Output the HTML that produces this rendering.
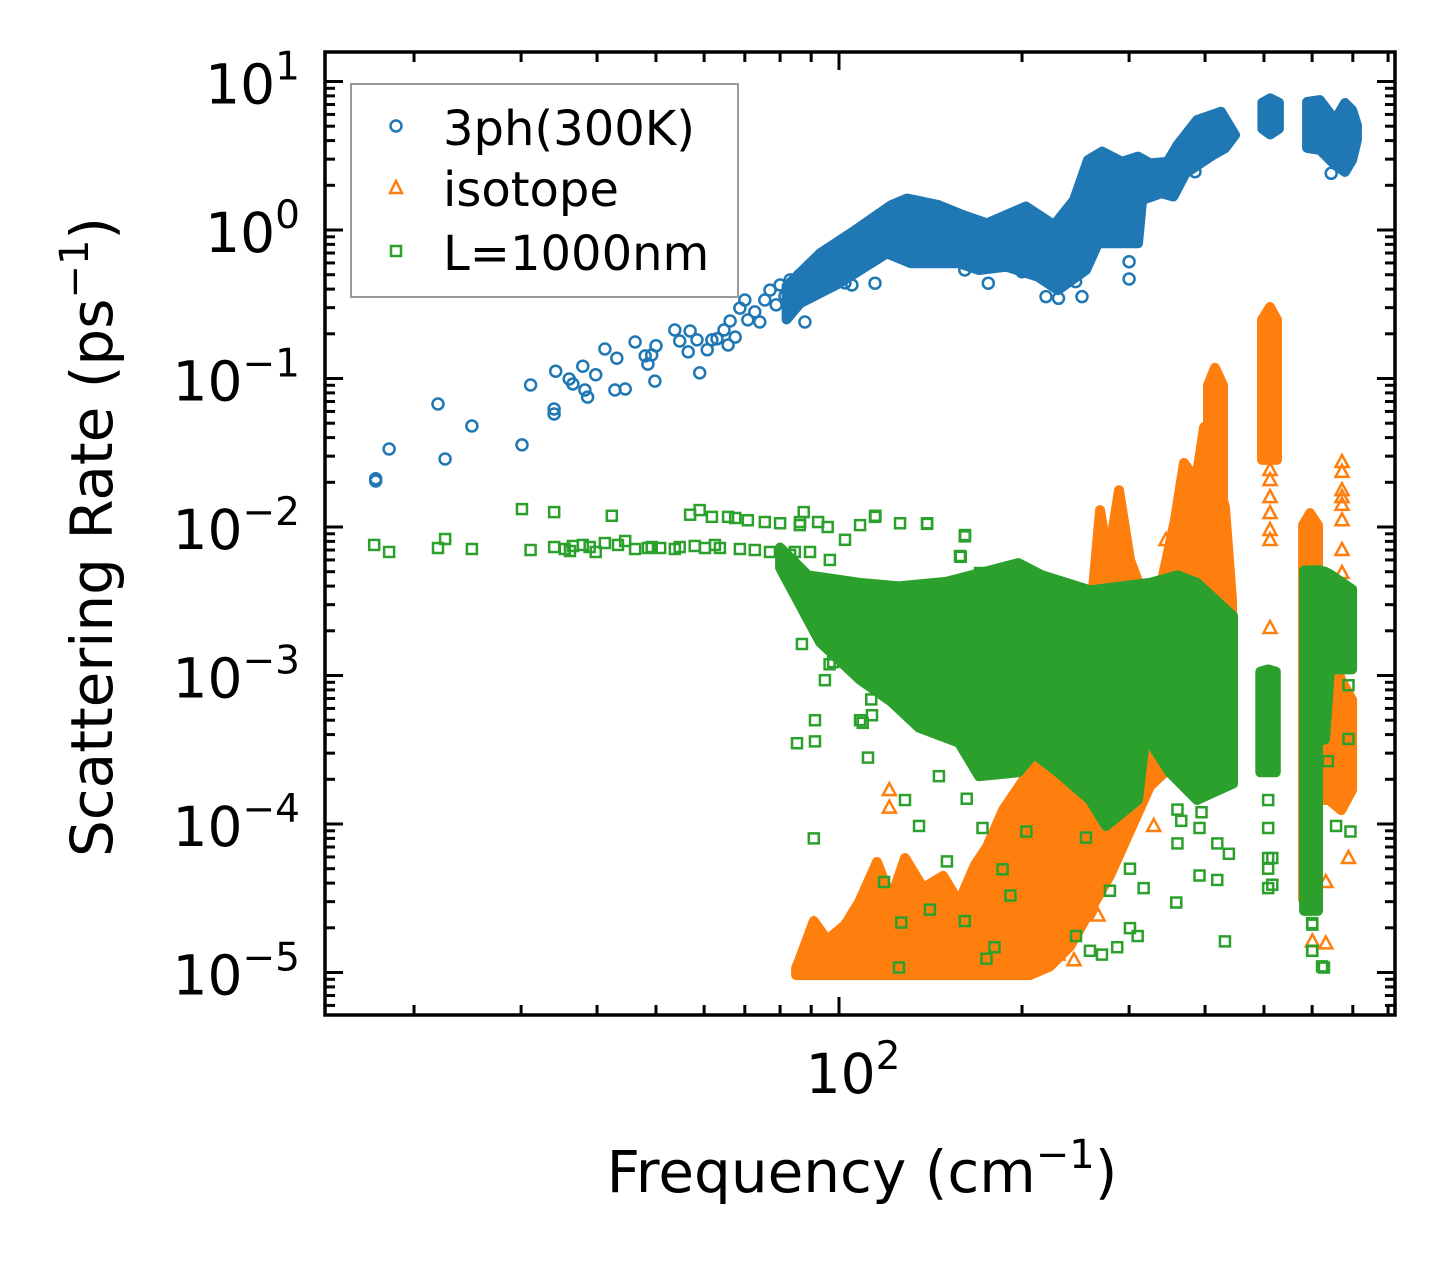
<!DOCTYPE html>
<html><head><meta charset="utf-8"><title>Scattering Rate</title>
<style>
html,body{margin:0;padding:0;background:#fff;}
svg{display:block;font-family:"DejaVu Sans","Liberation Sans",sans-serif;}
</style></head>
<body>
<svg id="chart" xmlns="http://www.w3.org/2000/svg" width="1455" height="1265" viewBox="0 0 1455 1265">
<defs><clipPath id="plotclip"><rect x="325" y="52" width="1070" height="963"/></clipPath></defs>
<rect x="0" y="0" width="1455" height="1265" fill="#fff"/>
<g id="series" clip-path="url(#plotclip)"></g>
<g id="axes"></g>
<g id="legend">
  <rect x="351" y="84" width="387" height="213" fill="#fff" stroke="#999" stroke-width="2"/>
  <circle cx="396" cy="126" r="5.5" fill="none" stroke="#1f77b4" stroke-width="2.5"/>
  <text x="443" y="145" font-size="48">3ph(300K)</text>
  <polygon points="396,181 402,193 390,193" fill="none" stroke="#ff7f0e" stroke-width="2.5"/>
  <text x="443" y="206" font-size="48">isotope</text>
  <rect x="391" y="246" width="10" height="10" fill="none" stroke="#2ca02c" stroke-width="2.5"/>
  <text x="443" y="270" font-size="48">L=1000nm</text>
</g>
<text x="862" y="1192" font-size="58" text-anchor="middle">Frequency (cm<tspan dy="-24" font-size="40">−1</tspan><tspan dy="24">)</tspan></text>
<text transform="translate(112,537) rotate(-90)" x="0" y="0" font-size="58" text-anchor="middle">Scattering Rate (ps<tspan dy="-24" font-size="40">−1</tspan><tspan dy="24">)</tspan></text>
</svg>
<script>
// ---------- data ----------
const blueFreq=[17.3,17.3,18.2,21.9,22.5,24.9,30.1,31.1,34.0,34.0,34.2,36.0,36.5,37.9,38.2,38.6,39.8,41.2,42.8,43.1,44.5,46.2,48.0,48.5,49.2,49.8,50.0,53.7,54.7,56.5,56.9,58.4,59.0,60.7,61.8,63.0,64.7,65.7,66.2,67.5,68.7,70.0,70.8,72.7,74.1,75.5,77.0,78.8,80.0,81.5,83.1,84.6,86.3,87.9,89.6,92.4,94.8,96.6,102.3,105,114.6,161,176,200,219,229.6,251,245,300,300,385,645];
const blueRate=[0.0204,0.0211,0.0335,0.0673,0.0287,0.0479,0.0357,0.0904,0.0577,0.0623,0.112,0.0993,0.0918,0.121,0.0837,0.075,0.106,0.158,0.0837,0.137,0.085,0.176,0.142,0.125,0.144,0.096,0.166,0.212,0.179,0.151,0.209,0.182,0.109,0.156,0.182,0.185,0.212,0.168,0.244,0.19,0.298,0.338,0.248,0.281,0.24,0.338,0.394,0.313,0.426,0.359,0.461,0.338,0.498,0.24,0.394,0.538,0.461,0.581,0.44,0.426,0.438,0.538,0.438,0.524,0.356,0.347,0.356,0.449,0.468,0.612,2.47,2.41];
const blueTopFreq=[82,93.1,106.4,121.8,129.4,146,160,175.1,203,225.8,243.5,256.8,270.7,292.1,310.3,324.8,347,360.4,388,424.9,448];
const blueTopRate=[0.42,0.697,1.0,1.47,1.63,1.47,1.26,1.11,1.44,1.08,1.59,2.96,3.37,2.88,3.12,2.81,2.88,3.73,5.5,6.26,4.36];
const blueBotFreq=[82,86.3,100.2,119.9,131.3,157.5,169.9,188.6,212.5,229.2,254.8,266.7,310.3,315.1,339.2,354.8,371.5,412.3,431.3,448];
const blueBotRate=[0.25,0.321,0.438,0.697,0.597,0.597,0.538,0.566,0.485,0.394,0.538,0.814,0.814,1.59,1.77,1.68,2.41,3.2,3.55,4.36];
const blueBlob1Freq=[497,512,529], blueBlob1Top=[7.2,7.7,7.2], blueBlob1Bot=[4.8,4.4,4.8];
const blueBlob2Freq=[588.6,618,654.4,679.6,698,711], blueBlob2Top=[7.28,7.5,5.5,7.17,6.43,5.09], blueBlob2Bot=[3.57,3.46,2.74,2.46,2.96,4.04];

const orangeFreq=[345,511.6,511.6,511.6,511.6,511.6,511.6,511.6,671.9,671.9,671.9,671.9,671.9,671.9,671.9,671.9,433,433,433,121,121,329.3,329.3,437.8,688.6,632,600.5,632,274.9,266.7,243.5,229.2,90.9];
const orangeRate=[8.17e-3,2.42e-2,2.07e-2,1.59e-2,1.24e-2,9.55e-3,8.17e-3,2.09e-3,2.74e-2,2.35e-2,1.77e-2,1.59e-2,1.41e-2,1.11e-2,7.0e-3,4.9e-3,6e-3,4.98e-3,3.38e-3,1.69e-4,1.29e-4,2.49e-4,9.7e-5,2.04e-4,5.9e-5,4.07e-5,1.62e-5,1.57e-5,6.1e-5,2.42e-5,1.21e-5,1.32e-5,2.1e-5];
const orangeTopFreq=[85,86.3,90.9,95.6,102.3,107.9,115.5,121.8,128.4,137.5,148.3,157.5,167.4,175.1,186.1,203,212.5,229.2,251,260.7,268.8,277,288.7,301,318.7,337.3,356.9,369.4,386.6,398.5,410.8,431.3,436.3,443];
const orangeTopRate=[1.07e-5,1.25e-5,2.22e-5,1.66e-5,2.09e-5,2.98e-5,5.55e-5,3.13e-5,5.9e-5,3.71e-5,4.47e-5,2.98e-5,5.3e-5,7.0e-5,1.24e-4,2.1e-4,2.96e-4,3.35e-4,2.96e-4,3.22e-3,1.30e-2,6.0e-3,1.77e-2,6.0e-3,3.22e-3,3.77e-3,1.11e-2,2.70e-2,2.07e-2,4.71e-2,2.83e-2,1.36e-2,7.33e-3,3.22e-3];
const orangeBotFreq=[85,126,206.1,222.3,239.9,258.7,279.1,301,324.8,350.3,392.6,443];
const orangeBotRate=[9.6e-6,9.6e-6,9.6e-6,1.1e-5,1.5e-5,2.6e-5,4.5e-5,9e-5,1.8e-4,2.4e-4,3.4e-4,6.84e-4];
const orangeSpikeAFreq=[404.5,415.3,428.1], orangeSpikeATop=[9.0e-2,0.118,9.0e-2], orangeSpikeABot=[1.3e-2,1.3e-2,1.3e-2];
const orangeSpikeBFreq=[496.3,511.6,525.3], orangeSpikeBTop=[0.248,0.303,0.248], orangeSpikeBBot=[2.83e-2,2.83e-2,2.83e-2];
const orangeSpikeCFreq=[579.8,595.3,613.6], orangeSpikeCTop=[1.03e-2,1.24e-2,1.03e-2], orangeSpikeCBot=[3.08e-5,3.08e-5,3.08e-5];
const orangeSpikeDFreq=[618,640,670,698], orangeSpikeDTop=[3.22e-3,1.49e-3,9.3e-4,6.84e-4], orangeSpikeDBot=[1.45e-4,1.45e-4,1.24e-4,1.7e-4];

const greenFreq=[17.2,18.2,21.9,22.5,24.9,30.1,31.1,34.0,34.0,35.4,36.1,36.5,37.9,38.9,39.8,41.2,42.3,43.3,44.5,46.2,48.5,49.2,50.8,53.7,54.7,56.9,57.9,59.0,60.2,61.8,62.5,63.7,65.7,67.5,68.7,70.8,72.7,75.5,77.0,80.0,83.1,84.6,86.3,89.6,92.4,96.6,102.3,108.3,114.6,126,139.6,161.2,158.1,170.6,85.3,91.3,91.3,90.9,94.8,97.8,108.3,113.3,111.6,109.4,118.6,126.6,125.5,141.1,161,150.5,180.2,174.8,185.8,191.4,245.4,258.7,270.7,286.8,301,309.9,279,301,317,358.7,431.3,437.8,418.9,391.7,360.3,365.5,600.5,627.5,600.5,657,693.8,636.8,688.6,688.6,516,516,172.2,162.2,203.3,254.8,360.3,394.7,391.7,419,135.4,128.4,146,113,118.3,96.5,86.9,95.8,114.8,139.6,161,158.6,86.2,87.5,508,508,508,508,508,600,600,623];
const greenRate=[0.00757,0.00679,0.00722,0.0083,0.00711,0.0132,0.007,0.0126,0.00733,0.00711,0.00689,0.00745,0.00757,0.00733,0.00679,0.0078,0.0119,0.00757,0.00805,0.00711,0.00722,0.00733,0.00722,0.00711,0.00733,0.0121,0.00745,0.013,0.00722,0.0117,0.00757,0.00722,0.0117,0.0115,0.00711,0.0111,0.007,0.0108,0.00679,0.0106,0.00648,0.00679,0.0108,0.00679,0.0108,0.006,0.0082,0.0103,0.0117,0.0106,0.0106,0.00883,0.00638,0.0049,3.5e-4,3.6e-4,5.0e-4,8.0e-5,9.3e-4,1.23e-3,5.0e-4,5.4e-4,2.8e-4,4.8e-4,4.07e-5,2.17e-5,1.08e-5,2.65e-5,2.22e-5,5.6e-5,1.48e-5,1.24e-5,4.95e-5,3.3e-5,1.76e-5,1.4e-5,1.32e-5,1.48e-5,1.99e-5,1.76e-5,3.55e-5,5.0e-5,3.7e-5,2.96e-5,1.62e-5,6.3e-5,4.2e-5,4.5e-5,7.4e-5,1.05e-4,2.1e-5,1.08e-5,1.4e-5,9.7e-5,8.9e-5,2.65e-4,3.74e-4,8.6e-4,5.9e-5,3.9e-5,9.4e-5,1.48e-4,8.9e-5,8.1e-5,1.25e-4,1.2e-4,9.4e-5,7.4e-5,9.7e-5,1.45e-4,2.1e-4,6.9e-4,9.4e-4,1.19e-3,1.63e-3,0.01,0.0119,0.0105,0.00865,0.0063,0.0103,0.0126,1.45e-4,9.4e-5,5.9e-5,5.0e-5,3.7e-5,2.15e-5,1.4e-5,1.1e-5];
const greenTopFreq=[80,88.9,108.1,125.5,150.5,197.3,215.8,258.7,324.8,360.3,388,444.6];
const greenTopRate=[7.28e-3,4.73e-3,4.21e-3,3.98e-3,4.28e-3,5.71e-3,4.73e-3,3.75e-3,4.21e-3,4.73e-3,4.21e-3,2.51e-3];
const greenBotFreq=[80,93.1,108.1,121.8,135.4,157.5,169.9,197.3,209.3,229.2,258.7,274.9,310.3,319.4,349.6,388,444.6];
const greenBotRate=[5.3e-3,1.67e-3,9.4e-4,6.67e-4,4.45e-4,3.53e-4,2.10e-4,2.23e-4,2.97e-4,2.23e-4,1.45e-4,9.7e-5,1.45e-4,3.96e-4,2.23e-4,1.45e-4,1.87e-4];
const greenCol1Freq=[493,508,523], greenCol1Top=[1.06e-3,1.1e-3,1.06e-3], greenCol1Bot=[2.23e-4,2.23e-4,2.23e-4];
const greenCol2Freq=[582,613.6], greenCol2Top=[5.1e-3,5.1e-3], greenCol2Bot=[2.6e-5,2.6e-5];
const greenCol3Freq=[613.6,630,642,698], greenCol3Top=[5.13e-3,5.0e-3,4.8e-3,3.8e-3], greenCol3Bot=[3.7e-4,3.7e-4,1.1e-3,1.1e-3];

const yMajorExp=[1,0,-1,-2,-3,-4,-5];
const yTickLabels=["1","0","−1","−2","−3","−4","−5"];
const xMajor=[100];
const xTickLabels=["2"];
// ---------- axes ----------
const X0=325,X1=1395,Y0=52,Y1=1015;
const xs=f=>839+608*Math.log10(f/100);
const ys=v=>230-148.5*Math.log10(v);
const NS="http://www.w3.org/2000/svg";
function el(tag,attrs,parent){const e=document.createElementNS(NS,tag);for(const k in attrs)e.setAttribute(k,attrs[k]);parent.appendChild(e);return e;}
const S=document.getElementById('series'), A=document.getElementById('axes');

function band(fTop,rTop,fBot,rBot,color,sw,name,parent){
  const pts=[];
  for(let i=0;i<fTop.length;i++)pts.push(xs(fTop[i]).toFixed(1)+','+ys(rTop[i]).toFixed(1));
  for(let i=fBot.length-1;i>=0;i--)pts.push(xs(fBot[i]).toFixed(1)+','+ys(rBot[i]).toFixed(1));
  const p=el('polygon',{points:pts.join(' '),fill:color,stroke:color,'stroke-width':sw,'stroke-linejoin':'round'},parent);
  
  
}
function circles(fr,rt,parent){
  for(let i=0;i<fr.length;i++){
    const c=el('circle',{cx:xs(fr[i]).toFixed(1),cy:ys(rt[i]).toFixed(1),r:5.5,fill:'none',stroke:'#1f77b4','stroke-width':2.5},parent);
    
    
  }
}
function tris(fr,rt,parent){
  for(let i=0;i<fr.length;i++){
    const x=xs(fr[i]),y=ys(rt[i]);
    const t=el('polygon',{points:`${x},${y-7} ${x+6.5},${y+5} ${x-6.5},${y+5}`,fill:'none',stroke:'#ff7f0e','stroke-width':2.5},parent);
    
    
  }
}
function squares(fr,rt,parent){
  for(let i=0;i<fr.length;i++){
    const x=xs(fr[i]),y=ys(rt[i]);
    const q=el('rect',{x:x-5,y:y-5,width:10,height:10,fill:'none',stroke:'#2ca02c','stroke-width':2.5},parent);
    
    
  }
}
const gB=el('g',{},S);


band(blueTopFreq,blueTopRate,blueBotFreq,blueBotRate,'#1f77b4',10,'band-3ph-main',gB);
band(blueBlob1Freq,blueBlob1Top,blueBlob1Freq,blueBlob1Bot,'#1f77b4',10,'band-3ph-blob1',gB);
band(blueBlob2Freq,blueBlob2Top,blueBlob2Freq,blueBlob2Bot,'#1f77b4',10,'band-3ph-blob2',gB);
circles(blueFreq,blueRate,gB);
const gO=el('g',{},S);


band(orangeTopFreq,orangeTopRate,orangeBotFreq,orangeBotRate,'#ff7f0e',10,'band-isotope-main',gO);
band(orangeSpikeAFreq,orangeSpikeATop,orangeSpikeAFreq,orangeSpikeABot,'#ff7f0e',10,'band-isotope-spike-a',gO);
band(orangeSpikeBFreq,orangeSpikeBTop,orangeSpikeBFreq,orangeSpikeBBot,'#ff7f0e',10,'band-isotope-spike-b',gO);
band(orangeSpikeCFreq,orangeSpikeCTop,orangeSpikeCFreq,orangeSpikeCBot,'#ff7f0e',10,'band-isotope-spike-c',gO);
band(orangeSpikeDFreq,orangeSpikeDTop,orangeSpikeDFreq,orangeSpikeDBot,'#ff7f0e',10,'band-isotope-spike-d',gO);
tris(orangeFreq,orangeRate,gO);
const gG=el('g',{},S);


band(greenTopFreq,greenTopRate,greenBotFreq,greenBotRate,'#2ca02c',10,'band-boundary-main',gG);
band(greenCol1Freq,greenCol1Top,greenCol1Freq,greenCol1Bot,'#2ca02c',10,'band-boundary-col1',gG);
band(greenCol2Freq,greenCol2Top,greenCol2Freq,greenCol2Bot,'#2ca02c',10,'band-boundary-col2',gG);
band(greenCol3Freq,greenCol3Top,greenCol3Freq,greenCol3Bot,'#2ca02c',10,'band-boundary-col3',gG);
squares(greenFreq,greenRate,gG);

const TW=3;
function line(x1,y1,x2,y2,name){const l=el('line',{x1,y1,x2,y2,stroke:'#000','stroke-width':TW},A);}
for(let e=-6;e<=1;e++){
  for(let m=1;m<=9;m++){
    const v=m*Math.pow(10,e), y=ys(v);
    if(y<Y0+1||y>Y1-1)continue;
    const L=(m===1)?18:10;
    line(X0,y,X0+L,y,m===1?'y-major-tick':'y-minor-tick');
    line(X1,y,X1-L,y,m===1?'y-major-tick-right':'y-minor-tick-right');
  }
}
for(let e=1;e<=2;e++){
  for(let m=1;m<=9;m++){
    const f=m*Math.pow(10,e), x=xs(f);
    if(x<X0+1||x>X1-1)continue;
    const L=(m===1)?18:10;
    line(x,Y1,x,Y1-L,m===1?'x-major-tick':'x-minor-tick');
    line(x,Y0,x,Y0+L,m===1?'x-major-tick-top':'x-minor-tick-top');
  }
}
const frame=el('rect',{x:X0,y:Y0,width:X1-X0,height:Y1-Y0,fill:'none',stroke:'#000','stroke-width':3.5},A);


yMajorExp.forEach((ex,i)=>{
  const t=el('text',{x:300,y:ys(Math.pow(10,ex))+22,'font-size':55,'text-anchor':'end'},A);
  
  
  t.textContent='10';
  const s=el('tspan',{dy:-24,'font-size':39},t);
  s.textContent=yTickLabels[i];
});
xMajor.forEach((f,i)=>{
  const t=el('text',{x:xs(f)+14,y:1093,'font-size':55,'text-anchor':'middle'},A);
  
  
  t.textContent='10';
  const s=el('tspan',{dy:-24,'font-size':39},t);
  s.textContent=xTickLabels[i];
});
</script>
</body></html>
